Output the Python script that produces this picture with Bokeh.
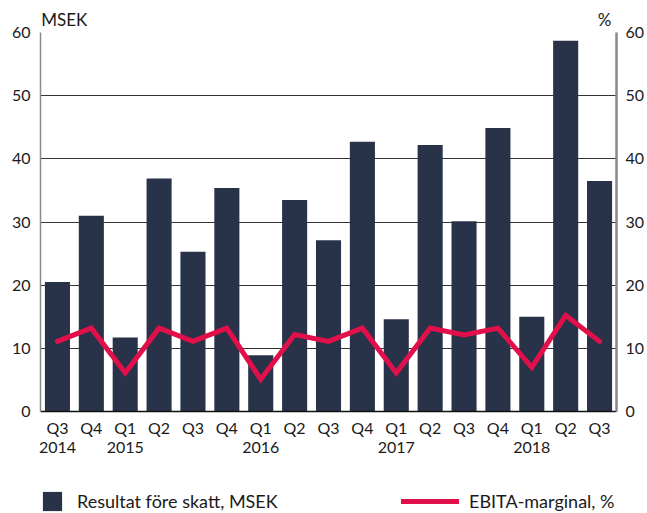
from bokeh.plotting import figure
from bokeh.layouts import column
from bokeh.models import (LinearAxis, Range1d, FixedTicker, Legend, LegendItem,
                          ColumnDataSource, Grid)
from bokeh.embed import file_html
from bokeh.resources import INLINE

quarters = ["Q3", "Q4", "Q1", "Q2", "Q3", "Q4", "Q1", "Q2", "Q3", "Q4",
            "Q1", "Q2", "Q3", "Q4", "Q1", "Q2", "Q3"]
year_labels = {0: "2014", 2: "2015", 6: "2016", 10: "2017", 14: "2018"}
profit = [20.5, 31.0, 11.7, 36.9, 25.3, 35.4, 8.9, 33.5, 27.1, 42.7,
          14.6, 42.2, 30.1, 44.9, 15.0, 58.7, 36.5]
margin = [11.1, 13.2, 6.1, 13.2, 11.1, 13.2, 5.1, 12.2, 11.1, 13.2,
          6.1, 13.2, 12.1, 13.2, 7.0, 15.2, 11.1]
y_ticks = [0, 10, 20, 30, 40, 50, 60]
unit_labels = {0.2: "MSEK", 16.15: "%"}

FONT = "Lato"
FS = "16px"
LFS = "18px"
TXT = "#1a1a1a"
BAR = "#283249"
LINE = "#e2104a"

idx = list(range(len(quarters)))
src = ColumnDataSource(dict(x=idx, profit=profit, margin=margin))

p = figure(width=647, height=470, x_range=Range1d(-0.5, 16.5), y_range=Range1d(0, 60),
           output_backend="svg", toolbar_location=None,
           x_axis_location=None, y_axis_location=None,
           min_border_left=40, min_border_right=31, min_border_top=32, min_border_bottom=59)
p.outline_line_color = None
p.grid.grid_line_color = None
p.extra_y_ranges = {"pct": Range1d(0, 60)}

grid = Grid(dimension=1, ticker=FixedTicker(ticks=y_ticks),
            grid_line_color="#333333", grid_line_width=1)
p.add_layout(grid)

bars = p.vbar(x="x", top="profit", width=0.74, source=src, fill_color=BAR, line_color=None)
ln = p.line(x="x", y="margin", source=src, y_range_name="pct",
            line_color=LINE, line_width=5, line_join="miter", line_cap="round")

def style(ax, fs=FS):
    ax.major_tick_line_color = None
    ax.minor_tick_line_color = None
    ax.major_tick_out = 0
    ax.major_tick_in = 0
    ax.minor_tick_out = 0
    ax.minor_tick_in = 0
    ax.major_label_text_font = FONT
    ax.major_label_text_font_size = fs
    ax.major_label_text_color = TXT

left = LinearAxis(ticker=FixedTicker(ticks=y_ticks))
style(left)
left.axis_line_color = "#888888"
left.axis_line_width = 1.5
left.major_label_standoff = 10
p.add_layout(left, "left")

right = LinearAxis(ticker=FixedTicker(ticks=y_ticks), y_range_name="pct")
style(right)
right.axis_line_color = "#888888"
right.axis_line_width = 2.5
right.major_label_standoff = 9
p.add_layout(right, "right")

top = LinearAxis(ticker=FixedTicker(ticks=list(unit_labels.keys())),
                 major_label_overrides=unit_labels)
style(top, "17px")
top.axis_line_color = None
top.major_label_standoff = 3
p.add_layout(top, "above")

qax = LinearAxis(ticker=FixedTicker(ticks=idx),
                 major_label_overrides={i: q for i, q in enumerate(quarters)})
style(qax)
qax.axis_line_color = "#111111"
qax.axis_line_width = 1.5
qax.major_label_standoff = 6
p.add_layout(qax, "below")

yax = LinearAxis(ticker=FixedTicker(ticks=list(year_labels.keys())),
                 major_label_overrides=year_labels)
style(yax)
yax.axis_line_color = None
yax.major_label_standoff = 2
p.add_layout(yax, "below")

# legend strip (frame aligned with the chart frame by the column layout)
p2 = figure(width=647, height=43, x_range=Range1d(-100, -99), y_range=Range1d(-100, -99),
            output_backend="svg", toolbar_location=None,
            x_axis_location=None, y_axis_location=None, min_border=0)
p2.outline_line_color = None
p2.grid.grid_line_color = None
lb = p2.vbar(x="x", top="profit", width=0.74, source=src, fill_color=BAR, line_color=None,
             visible=False)
ll = p2.line(x="x", y="margin", source=src, line_color=LINE, line_width=5, line_cap="round",
             visible=False)

common = dict(border_line_color=None, background_fill_alpha=0, padding=0, margin=0,
              label_text_font=FONT, label_text_font_size=LFS, label_text_color=TXT,
              inactive_fill_alpha=0, glyph_height=24)
leg1 = Legend(items=[LegendItem(label="Resultat före skatt, MSEK", renderers=[lb])],
              location=(0, 0), glyph_width=24, label_standoff=13, **common)
leg2 = Legend(items=[LegendItem(label="EBITA-marginal, %", renderers=[ll])],
              location=(361, 0), glyph_width=58, label_standoff=10, **common)
p2.add_layout(leg1, "center")
p2.add_layout(leg2, "center")

open("out.html", "w").write(file_html(column(p, p2, spacing=0), INLINE))
